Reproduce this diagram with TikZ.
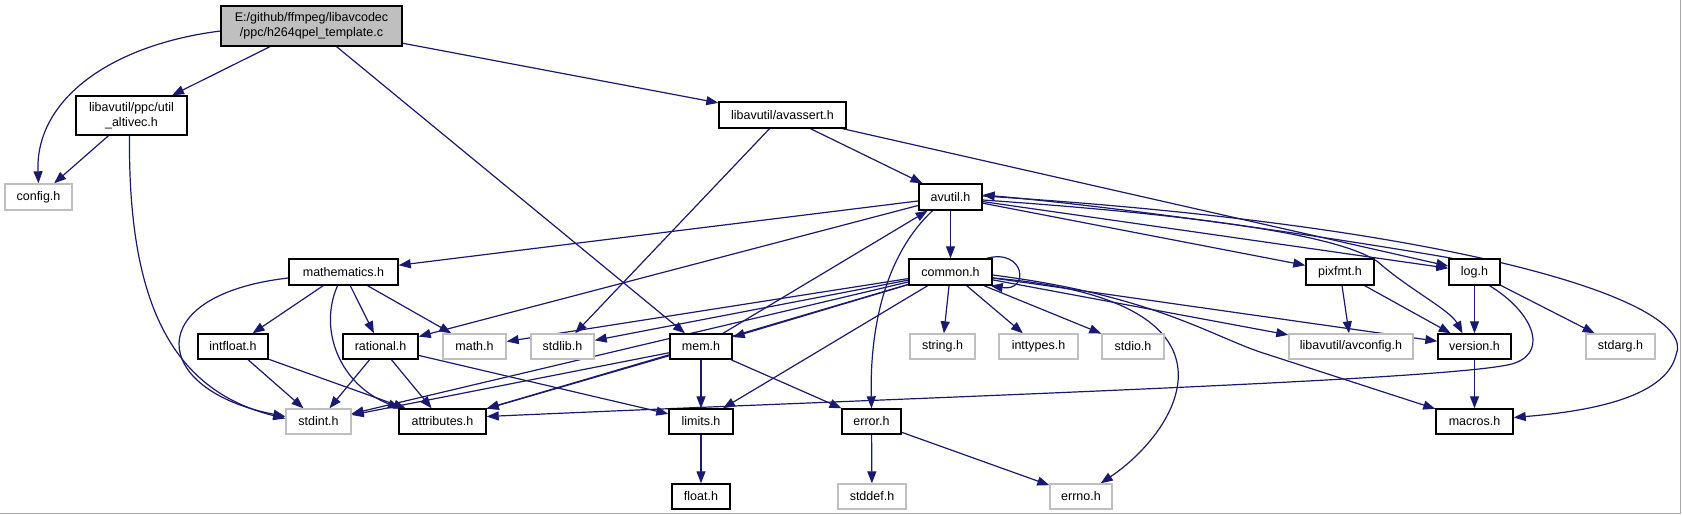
\documentclass[tikz,border=0pt]{standalone}
\usepackage{fontspec}
\setmainfont{Liberation Sans}
\usetikzlibrary{arrows.meta}
\definecolor{edgec}{HTML}{191970}
\definecolor{gb}{HTML}{BFBFBF}
\definecolor{frame}{HTML}{A8A8A8}
\pgfdeclarelayer{bg}
\pgfsetlayers{bg,main}
\tikzset{
  box/.style={draw=black, line width=1.4pt, fill=white, inner sep=0pt, minimum height=26pt,
    font=\fontsize{12.5}{15}\selectfont, align=center},
  gbox/.style={box, draw=gb},
  dep/.style={draw=edgec, line width=1.2pt, -{Triangle[length=12pt,width=9pt]}},
}
\begin{document}
\begin{tikzpicture}[x=1pt,y=-1pt]
\useasboundingbox (0,0) rectangle (1682,515);
\draw[frame, line width=1.5pt] (1680.5,0) -- (1680.5,513.5) -- (0,513.5);

% nodes
\node[box, fill=gb, minimum width=181pt, minimum height=40pt] (main) at (311.5,26) {E:/github/ffmpeg/libavcodec\\/ppc/h264qpel\_template.c};
\node[box, minimum width=111pt, minimum height=39pt] (util) at (131.5,115.5) {libavutil/ppc/util\\\_altivec.h};
\node[gbox, minimum width=67pt] (config) at (38.5,197) {config.h};
\node[box, minimum width=127pt] (avassert) at (782.5,115) {libavutil/avassert.h};
\node[box, minimum width=63pt] (avutil) at (950.5,197) {avutil.h};
\node[box, minimum width=109pt] (mathematics) at (343.5,272) {mathematics.h};
\node[box, minimum width=83pt] (common) at (950.5,272) {common.h};
\node[box, minimum width=68pt] (pixfmt) at (1340,272) {pixfmt.h};
\node[box, minimum width=51pt] (log) at (1474.5,272) {log.h};
\node[box, minimum width=70pt, minimum height=25pt] (intfloat) at (233,346.5) {intfloat.h};
\node[box, minimum width=75pt, minimum height=25pt] (rational) at (380.5,346.5) {rational.h};
\node[gbox, minimum width=63pt, minimum height=25pt] (math) at (474.5,346.5) {math.h};
\node[gbox, minimum width=63pt, minimum height=25pt] (stdlib) at (562.5,346.5) {stdlib.h};
\node[box, minimum width=62pt, minimum height=25pt] (mem) at (701,346.5) {mem.h};
\node[gbox, minimum width=65pt, minimum height=25pt] (string) at (942.5,346.5) {string.h};
\node[gbox, minimum width=79pt, minimum height=25pt] (inttypes) at (1038.5,346.5) {inttypes.h};
\node[gbox, minimum width=62pt, minimum height=25pt] (stdio) at (1133,346.5) {stdio.h};
\node[gbox, minimum width=124pt, minimum height=25pt] (avconfig) at (1351,346.5) {libavutil/avconfig.h};
\node[box, minimum width=73pt, minimum height=25pt] (version) at (1474.5,346.5) {version.h};
\node[gbox, minimum width=69pt, minimum height=25pt] (stdarg) at (1620.5,346.5) {stdarg.h};
\node[gbox, minimum width=65pt, minimum height=25pt] (stdint) at (318.5,421.5) {stdint.h};
\node[box, minimum width=87pt, minimum height=25pt] (attributes) at (442.5,421.5) {attributes.h};
\node[box, minimum width=64pt, minimum height=25pt] (limits) at (701,421.5) {limits.h};
\node[box, minimum width=59pt, minimum height=25pt] (error) at (871.5,421.5) {error.h};
\node[box, minimum width=77pt, minimum height=25pt] (macros) at (1474.5,421.5) {macros.h};
\node[box, minimum width=58pt, minimum height=25pt] (float) at (701,496.5) {float.h};
\node[gbox, minimum width=68pt, minimum height=25pt] (stddef) at (872,496.5) {stddef.h};
\node[gbox, minimum width=62pt, minimum height=25pt] (errno) at (1081,496.5) {errno.h};

\begin{pgfonlayer}{bg}
% main
\draw[dep] (main) -- (util);
\draw[dep] (main) -- (mem);
\draw[dep] (main) -- (avassert);
\draw[dep] ([yshift=-5pt]main.west) .. controls (110,45) and (35,100) .. (config.north);
% util
\draw[dep] (util) -- (config);
\draw[dep] ([xshift=-2pt]util.south) .. controls (128,300) and (170,390) .. ([yshift=3pt]stdint.west);
% avassert
\draw[dep] (avassert) -- (avutil);
\draw[dep] (avassert) -- (stdlib);
\draw[dep] (avassert) -- (log);
% avutil
\draw[dep] (avutil) -- (mathematics);
\draw[dep] (avutil) -- (rational);
\draw[dep] (avutil) -- (common);
\draw[dep] (avutil) -- (pixfmt);
\draw[dep] (avutil) -- (log);
\draw[dep] ([xshift=4pt]log.north west) .. controls (1300,232) and (1100,205) .. ([yshift=2pt]avutil.east);
\draw[dep] ([yshift=-3pt]avutil.east) .. controls (1200,215) and (1340,235) .. (1378,262) .. controls (1410,290) and (1450,310) .. ([xshift=-12pt]version.north);
\draw[dep] ([yshift=1pt]avutil.east) .. controls (1450,225) and (1700,300) .. (1676,355) .. controls (1665,400) and (1580,412) .. ([yshift=4pt]macros.east);
\draw[dep] ([xshift=-18pt]avutil.south) .. controls (880,260) and (870,340) .. (error.north);
% mem
\draw[dep] (mem) -- (avutil);
\draw[dep] (mem) -- (limits);
\draw[dep] (mem) -- (error);
\draw[dep] (mem) -- (stdint);
\draw[dep] (mem) -- (attributes);
% mathematics
\draw[dep] (mathematics) -- (intfloat);
\draw[dep] (mathematics) -- (rational);
\draw[dep] (mathematics) -- (math);
\draw[dep] ([yshift=-6pt]mathematics.west) .. controls (140,295) and (150,390) .. ([yshift=5pt]stdint.west);
\draw[dep] ([xshift=-6pt]mathematics.south) .. controls (318,330) and (340,385) .. ([xshift=-42.5pt]attributes.north);
% intfloat, rational
\draw[dep] (intfloat) -- (stdint);
\draw[dep] (intfloat) -- (attributes);
\draw[dep] (rational) -- (stdint);
\draw[dep] (rational) -- (attributes);
\draw[dep] (rational) -- (limits);
% common
\draw[dep] (common) -- (math);
\draw[dep] (common) -- (stdlib);
\draw[dep] (common) -- (mem);
\draw[dep] (common) -- (limits);
\draw[dep] (common) -- (stdint);
\draw[dep] (common) -- (attributes);
\draw[dep] (common) -- (string);
\draw[dep] (common) -- (inttypes);
\draw[dep] (common) -- (stdio);
\draw[dep] (common) -- (avconfig);
\draw[dep] (common) -- (version);
\draw[dep] ([yshift=-3pt]common.east) .. controls (1150,295) and (1210,335) .. (1260,352) -- (macros);
\draw[dep] ([yshift=-6pt]common.east) .. controls (1260,300) and (1180,430) .. ([xshift=-12pt]errno.north east);
\draw[dep] ([xshift=-6pt]common.north east) .. controls (1025,248) and (1030,292) .. ([xshift=-2pt]common.south east);
% pixfmt, log, version
\draw[dep] (pixfmt) -- (avconfig);
\draw[dep] (pixfmt) -- (version);
\draw[dep] (log) -- (version);
\draw[dep] (log) -- (stdarg);
\draw[dep] ([xshift=15pt]log.south) .. controls (1530,310) and (1550,350) .. (1515,363) .. controls (1470,380) and (900,398) .. ([yshift=5pt]attributes.east);
\draw[dep] (version) -- (macros);
% bottom
\draw[dep] (limits) -- (float);
\draw[dep] (error) -- (stddef);
\draw[dep] (error) -- (errno);
\end{pgfonlayer}
\end{tikzpicture}
\end{document}
